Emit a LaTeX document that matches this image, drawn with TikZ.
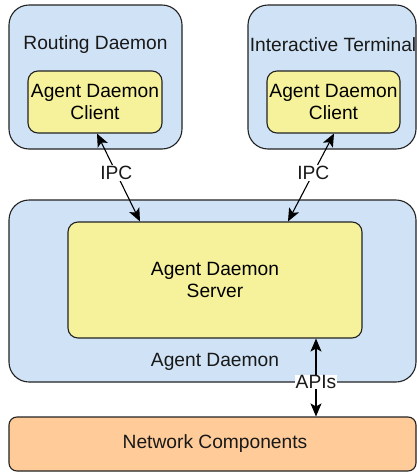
\documentclass[tikz,border=0pt]{standalone}
\usepackage{fontspec}
\setmainfont{Liberation Sans}
\usetikzlibrary{arrows.meta,calc}
\definecolor{hostblue}{HTML}{D0E3F6}
\definecolor{agentyellow}{HTML}{F6F29B}
\definecolor{netorange}{HTML}{FFCB99}
\definecolor{edgegray}{HTML}{222222}
\newcommand{\labelfont}{\fontsize{19.2}{22}\selectfont}
\tikzset{
  host/.style={draw=edgegray, line width=1.1pt, fill=hostblue, rounded corners=20pt, inner sep=0pt},
  agent/.style={draw=edgegray, line width=1.1pt, fill=agentyellow, rounded corners=10pt, inner sep=0pt, align=center, font=\labelfont},
  netbox/.style={draw=edgegray, line width=1.1pt, fill=netorange, rounded corners=8pt, inner sep=0pt},
  txt/.style={font=\labelfont, align=center, text=black!90},
  tip/.tip={Stealth[length=13pt,width=11pt,inset=3pt]},
  link/.style={line width=1.1pt, draw=black, tip-tip},
  tag/.style={txt, fill=white, inner sep=1pt}
}
\begin{document}
\begin{tikzpicture}[x=1pt, y=-1pt]
  \useasboundingbox (0,0) rectangle (417,472);

  % host processes
  \node[host, minimum width=173pt, minimum height=144pt] (routing) at (95.5,77) {};
  \node[host, minimum width=168pt, minimum height=144pt] (terminal) at (332,77) {};
  \node[txt] (routinglbl) at (95.5,45) {Routing Daemon};
  \node[txt] (terminallbl) at (333,45) {Interactive Terminal};

  % clients embedded in the hosts
  \node[agent, minimum width=134pt, minimum height=62pt] (clientL) at (95,102) {Agent Daemon\\Client};
  \node[agent, minimum width=133pt, minimum height=62pt] (clientR) at (333.5,102) {Agent Daemon\\Client};

  % agent daemon with its server
  \node[host, minimum width=407pt, minimum height=182pt] (daemon) at (212.5,291) {};
  \node[agent, minimum width=294pt, minimum height=116pt] (server) at (215,280) {Agent Daemon\\Server};
  \node[txt] (daemonlbl) at (215,362) {Agent Daemon};

  % network components
  \node[netbox, minimum width=407pt, minimum height=54pt] (net) at (212.5,444) {};
  \node[txt] (netlbl) at (215,444) {Network Components};

  % connectors
  \draw[link] ([xshift=2pt]clientL.south) -- node[tag, pos=0.45] (ipcL) {IPC} ([xshift=-75pt]server.north);
  \draw[link] ([xshift=0.5pt]clientR.south) -- node[tag, pos=0.45] (ipcR) {IPC} ([xshift=73pt]server.north);
  \draw[link] ([xshift=101pt]server.south) -- ([xshift=103.5pt]net.north);
  \node[tag, inner sep=0.5pt] (apis) at (316,382) {APIs};
\end{tikzpicture}
\end{document}
